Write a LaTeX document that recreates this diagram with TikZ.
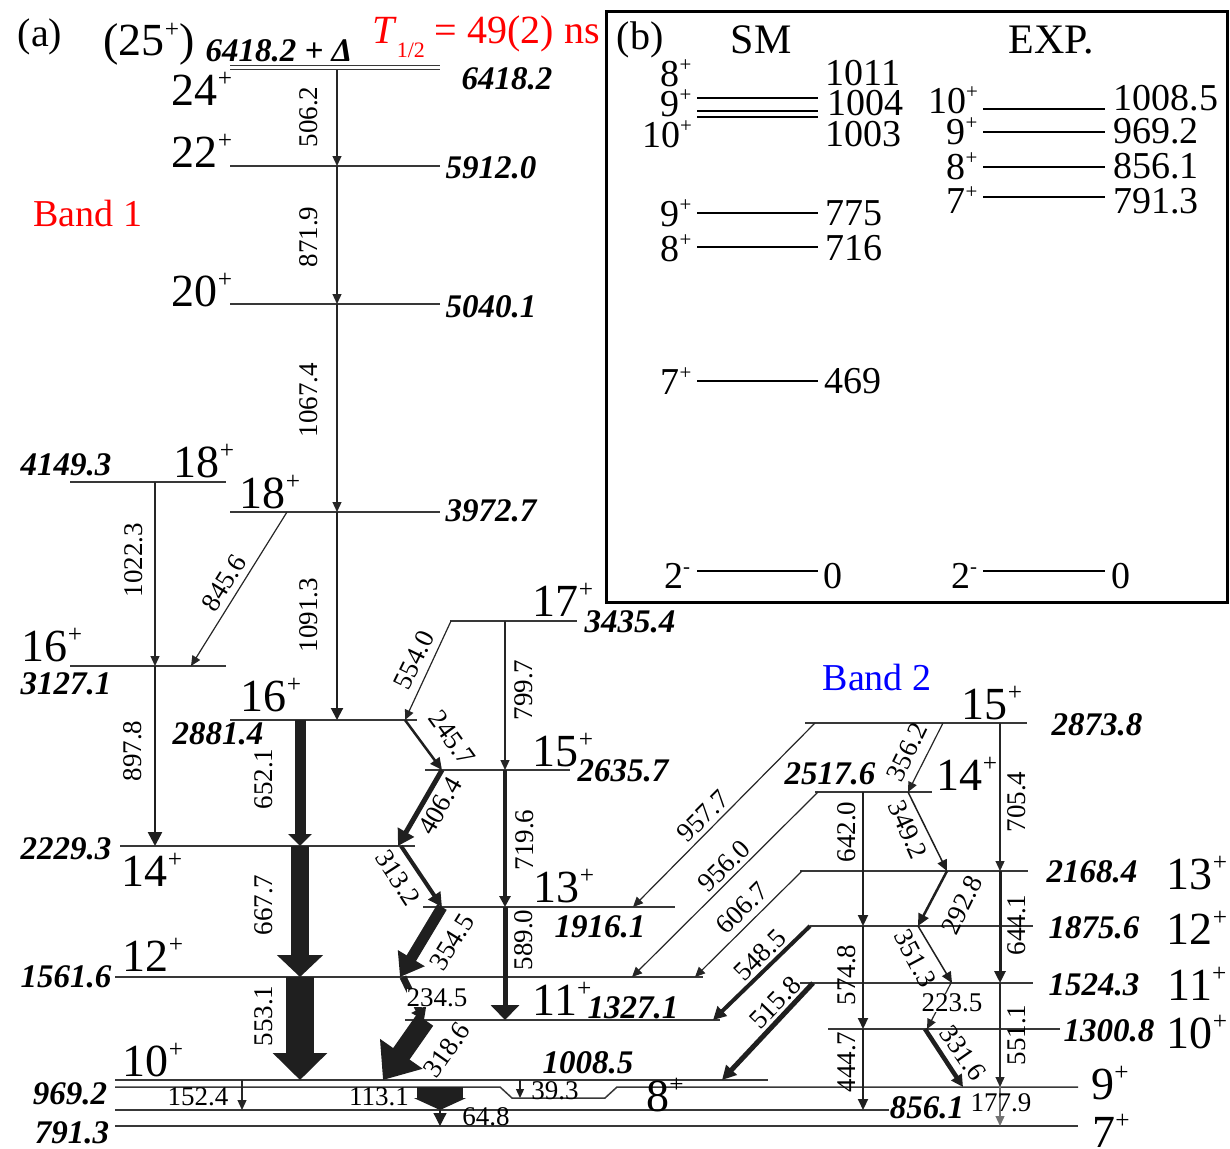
\documentclass[tikz,border=0pt]{standalone}
\usepackage{fontspec}
\usepackage{graphicx}
\setmainfont{Liberation Serif}
\usetikzlibrary{arrows.meta}
\newcommand\spp[1]{\raisebox{0.4em}{\scalebox{0.55}{#1}}}
\begin{document}
\begin{tikzpicture}[x=1pt,y=-1pt,
  lev/.style={draw=black!78, line width=1.5pt},
  ilev/.style={draw=black, line width=2.6pt},
  tr/.style={draw=black!85, line width=1.2pt, -{Triangle[width=9pt,length=10pt]}},
  ar/.style n args={3}{draw=black!88, line width=#1pt, -{Triangle[width=#2pt,length=#3pt]}},
  spin/.style={inner sep=0pt, font=\fontsize{46}{46}\selectfont},
  en/.style={inner sep=0pt, font=\fontsize{33}{33}\selectfont\bfseries\itshape},
  tl/.style={inner sep=0pt, font=\fontsize{27}{27}\selectfont},
  ins/.style={inner sep=0pt, font=\fontsize{38}{38}\selectfont},
]
\useasboundingbox (0,0) rectangle (1230,1148);

% ---------- level coordinates ----------
\coordinate (L6418d) at (0,65.5);
\coordinate (L6418) at (0,69.5);
\coordinate (L5912) at (0,166);
\coordinate (L5040) at (0,304);
\coordinate (L4149) at (0,482);
\coordinate (L3973) at (0,512);
\coordinate (L3435) at (0,621);
\coordinate (L3127) at (0,666);
\coordinate (L2881) at (0,720);
\coordinate (L2874) at (0,723);
\coordinate (L2636) at (0,770);
\coordinate (L2518) at (0,792);
\coordinate (L2229) at (0,846);
\coordinate (L2168) at (0,871);
\coordinate (L1916) at (0,907);
\coordinate (L1876) at (0,926);
\coordinate (L1562) at (0,977);
\coordinate (L1524) at (0,983);
\coordinate (L1327) at (0,1020);
\coordinate (L1301) at (0,1029);
\coordinate (L1008) at (0,1080);
\coordinate (L969) at (0,1087);
\coordinate (L969d) at (0,1098);
\coordinate (L856) at (0,1110);
\coordinate (L791) at (0,1126);

% ---------- level lines ----------
\draw[lev] ([xshift=230pt]L6418d) -- ([xshift=440pt]L6418d);
\draw[lev] ([xshift=230pt]L6418) -- ([xshift=440pt]L6418);
\draw[lev] ([xshift=230pt]L5912) -- ([xshift=440pt]L5912);
\draw[lev] ([xshift=230pt]L5040) -- ([xshift=440pt]L5040);
\draw[lev] ([xshift=70pt]L4149) -- ([xshift=226pt]L4149);
\draw[lev] ([xshift=230pt]L3973) -- ([xshift=440pt]L3973);
\draw[lev] ([xshift=450pt]L3435) -- ([xshift=577pt]L3435);
\draw[lev] ([xshift=70pt]L3127) -- ([xshift=226pt]L3127);
\draw[lev] ([xshift=230pt]L2881) -- ([xshift=417pt]L2881);
\draw[lev] ([xshift=425pt]L2636) -- ([xshift=570pt]L2636);
\draw[lev] ([xshift=120pt]L2229) -- ([xshift=415pt]L2229);
\draw[lev] ([xshift=423pt]L1916) -- ([xshift=675pt]L1916);
\draw[lev] ([xshift=115pt]L1562) -- ([xshift=703pt]L1562);
\draw[lev] ([xshift=405pt]L1327) -- ([xshift=720pt]L1327);
\draw[lev] ([xshift=115pt]L1008) -- ([xshift=768pt]L1008);
\draw[lev] ([xshift=115pt]L969) -- ([xshift=500pt]L969) -- ([xshift=512pt]L969d)
  -- ([xshift=605pt]L969d) -- ([xshift=617pt]L969) -- ([xshift=1078pt]L969);
\draw[lev] ([xshift=115pt]L856) -- ([xshift=889pt]L856);
\draw[lev] ([xshift=115pt]L791) -- ([xshift=1078pt]L791);
\draw[lev] ([xshift=805pt]L2874) -- ([xshift=1027pt]L2874);
\draw[lev] ([xshift=815pt]L2518) -- ([xshift=932pt]L2518);
\draw[lev] ([xshift=800pt]L2168) -- ([xshift=1028pt]L2168);
\draw[lev] ([xshift=810pt]L1876) -- ([xshift=1033pt]L1876);
\draw[lev] ([xshift=800pt]L1524) -- ([xshift=1033pt]L1524);
\draw[lev] ([xshift=828pt]L1301) -- ([xshift=1060pt]L1301);

% ---------- transitions, band 1 ----------
\draw[tr] ([xshift=337pt]L6418) -- ([xshift=337pt]L5912);
\draw[tr] ([xshift=337pt]L5912) -- ([xshift=337pt]L5040);
\draw[tr] ([xshift=337pt]L5040) -- ([xshift=337pt]L3973);
\draw[ar={2}{12}{12}] ([xshift=337pt]L3973) -- ([xshift=337pt]L2881);
\draw[tr] ([xshift=287pt]L3973) -- ([xshift=191pt]L3127);
\draw[tr] ([xshift=155pt]L4149) -- ([xshift=155pt]L3127);
\draw[ar={2.5}{14}{14}] ([xshift=155pt]L3127) -- ([xshift=155pt]L2229);
\draw[ar={11}{23}{12}] ([xshift=300pt]L2881) -- ([xshift=300pt]L2229);
\draw[ar={18}{45}{22}] ([xshift=300pt]L2229) -- ([xshift=300pt]L1562);
\draw[ar={28}{53}{27}] ([xshift=300pt]L1562) -- ([xshift=300pt]L1008);
\draw[tr] ([xshift=451pt]L3435) -- ([xshift=405pt]L2881);
\draw[tr] ([xshift=505pt]L3435) -- ([xshift=505pt]L2636);
\draw[ar={2.5}{11}{12}] ([xshift=405pt]L2881) -- ([xshift=442pt]L2636);
\draw[ar={5}{18}{16}] ([xshift=442pt]L2636) -- ([xshift=398pt]L2229);
\draw[ar={4}{14}{14}] ([xshift=401pt]L2229) -- ([xshift=442pt]L1916);
\draw[ar={11}{30}{22}] ([xshift=442pt]L1916) -- ([xshift=400pt]L1562);
\draw[ar={4}{11}{11}] ([xshift=505pt]L2636) -- ([xshift=505pt]L1916);
\draw[ar={5}{28}{15}] ([xshift=505pt]L1916) -- ([xshift=505pt]L1327);
\draw[ar={7}{16}{12}] ([xshift=403pt]L1562) -- ([xshift=424pt]L1327);
\draw[ar={20}{50}{32}] ([xshift=425pt]L1327) -- ([xshift=383pt]L1008);
\draw[tr] ([xshift=242pt]L1008) -- ([xshift=242pt]L856);
\draw[ar={46}{52}{12}] ([xshift=440pt]L969) -- ([xshift=440pt]L856);
\draw[ar={1.2}{13}{13}] ([xshift=440pt]L856) -- ([xshift=440pt]L791);
\draw[ar={1.2}{8}{9}] ([xshift=520pt]L1008) -- ([xshift=520pt]L969d);

% ---------- transitions, band 2 ----------
\draw[tr] ([xshift=1000pt]L2874) -- ([xshift=1000pt]L2168);
\draw[ar={3}{11}{12}] ([xshift=1000pt]L2168) -- ([xshift=1000pt]L1524);
\draw[tr] ([xshift=1000pt]L1524) -- ([xshift=1000pt]L969);
\draw[tr, draw=black!55] ([xshift=1000pt]L969) -- ([xshift=1000pt]L791);
\draw[ar={2}{10}{11}] ([xshift=863pt]L2518) -- ([xshift=863pt]L1876);
\draw[ar={2}{10}{11}] ([xshift=863pt]L1876) -- ([xshift=863pt]L1301);
\draw[ar={2}{10}{11}] ([xshift=863pt]L1301) -- ([xshift=863pt]L856);
\draw[tr] ([xshift=943pt]L2874) -- ([xshift=908pt]L2518);
\draw[ar={1.5}{10}{11}] ([xshift=908pt]L2518) -- ([xshift=947pt]L2168);
\draw[ar={2.5}{11}{12}] ([xshift=947pt]L2168) -- ([xshift=918pt]L1876);
\draw[ar={1.5}{10}{11}] ([xshift=918pt]L1876) -- ([xshift=952pt]L1524);
\draw[tr] ([xshift=951pt]L1524) -- ([xshift=927pt]L1301);
\draw[ar={4.5}{12}{12}] ([xshift=925pt]L1301) -- ([xshift=963pt]L969);

% ---------- crossing transitions ----------
\draw[tr] ([xshift=815pt]L2874) -- ([xshift=633pt]L1916);
\draw[tr] ([xshift=818pt]L2518) -- ([xshift=632pt]L1562);
\draw[tr] ([xshift=802pt]L2168) -- ([xshift=695pt]L1562);
\draw[ar={4}{13}{13}] ([xshift=810pt]L1876) -- ([xshift=713pt]L1327);
\draw[ar={5}{14}{14}] ([xshift=813pt]L1524) -- ([xshift=722pt]L1008);

% ---------- spin labels ----------
\node[font=\fontsize{40}{40}\selectfont, inner sep=0pt] (pa) at (40,37) {(a)};
\node[spin] (j25) at (149,44) {(25\spp{+})};
\node[spin] (j24) at (202,89) {24\spp{+}};
\node[spin] (j22) at (202,151) {22\spp{+}};
\node[spin] (j20) at (202,290) {20\spp{+}};
\node[spin] (j18a) at (204,461) {18\spp{+}};
\node[spin] (j18b) at (270,492) {18\spp{+}};
\node[spin] (j16a) at (52,645) {16\spp{+}};
\node[spin] (j16b) at (271,695) {16\spp{+}};
\node[spin] (j17) at (563,600) {17\spp{+}};
\node[spin] (j15) at (563,750) {15\spp{+}};
\node[spin] (j14) at (152,870) {14\spp{+}};
\node[spin] (j13) at (564,886) {13\spp{+}};
\node[spin] (j12) at (153,955) {12\spp{+}};
\node[spin] (j11) at (562,999) {11\spp{+}};
\node[spin] (j10) at (153,1060) {10\spp{+}};
\node[spin] (j8) at (665,1095) {8\spp{+}};
\node[spin] (j9) at (1110,1083) {9\spp{+}};
\node[spin] (j7) at (1111,1131) {7\spp{+}};
\node[spin] (j15r) at (992,703) {15\spp{+}};
\node[spin] (j14r) at (967,774) {14\spp{+}};
\node[spin] (j13r) at (1197,873) {13\spp{+}};
\node[spin] (j12r) at (1197,928) {12\spp{+}};
\node[spin] (j11r) at (1197,984) {11\spp{+}};
\node[spin] (j10r) at (1197,1032) {10\spp{+}};

% ---------- energy labels ----------
\node[en] (e64d) at (279,51) {6418.2 + Δ};
\node[en] (e64) at (507,79) {6418.2};
\node[en] (e59) at (491,168) {5912.0};
\node[en] (e50) at (491,307) {5040.1};
\node[en] (e41) at (66,465) {4149.3};
\node[en] (e39) at (491,511) {3972.7};
\node[en] (e34) at (630,622) {3435.4};
\node[en] (e31) at (66,684) {3127.1};
\node[en] (e28) at (218,734) {2881.4};
\node[en] (e26) at (623,771) {2635.7};
\node[en] (e22) at (66,849) {2229.3};
\node[en] (e19) at (600,927) {1916.1};
\node[en] (e15) at (66,977) {1561.6};
\node[en] (e13) at (633,1008) {1327.1};
\node[en] (e10) at (588,1063) {1008.5};
\node[en] (e96) at (70,1094) {969.2};
\node[en] (e79) at (72,1133) {791.3};
\node[en] (e85) at (927,1108) {856.1};
\node[en] (e287) at (1097,725) {2873.8};
\node[en] (e251) at (830,774) {2517.6};
\node[en] (e216) at (1092,872) {2168.4};
\node[en] (e187) at (1094,928) {1875.6};
\node[en] (e152) at (1094,985) {1524.3};
\node[en] (e130) at (1109,1031) {1300.8};

% ---------- band names, half-life ----------
\node[inner sep=0pt, text=red, font=\fontsize{38}{38}\selectfont] (b1) at (88,213) {Band 1};
\node[inner sep=0pt, text=blue, font=\fontsize{38}{38}\selectfont] (b2) at (877,677) {Band 2};
\node[inner sep=0pt, text=red, font=\fontsize{40}{40}\selectfont] (th) at (486,37)
  {\itshape T\/\upshape\raisebox{-0.35em}{\scalebox{0.55}{1/2}} = 49(2) ns};

% ---------- transition labels ----------
\node[tl, rotate=90] (g506) at (309,117) {506.2};
\node[tl, rotate=90] (g871) at (309,237) {871.9};
\node[tl, rotate=90] (g1067) at (309,400) {1067.4};
\node[tl, rotate=90] (g1091) at (309,615) {1091.3};
\node[tl, rotate=90] (g1022) at (134,560) {1022.3};
\node[tl, rotate=58] (g845) at (224,583) {845.6};
\node[tl, rotate=90] (g897) at (133,751) {897.8};
\node[tl, rotate=90] (g652) at (264,779) {652.1};
\node[tl, rotate=90] (g667) at (264,905) {667.7};
\node[tl, rotate=90] (g553) at (264,1016) {553.1};
\node[tl, rotate=64] (g554) at (414,660) {554.0};
\node[tl, rotate=90] (g799) at (524,690) {799.7};
\node[tl, rotate=-54] (g245) at (452,738) {245.7};
\node[tl, rotate=60] (g406) at (440,806) {406.4};
\node[tl, rotate=-57] (g313) at (398,878) {313.2};
\node[tl, rotate=58] (g354) at (452,942) {354.5};
\node[tl, rotate=90] (g719) at (525,840) {719.6};
\node[tl, rotate=90] (g589) at (524,940) {589.0};
\node[tl, fill=white] (g234) at (437,998) {234.5};
\node[tl, rotate=55] (g318) at (447,1050) {318.6};
\node[tl] (g152) at (198,1097) {152.4};
\node[tl] (g113) at (379,1097) {113.1};
\node[tl] (g39) at (555,1091) {39.3};
\node[tl] (g64) at (486,1117) {64.8};
\node[tl] (g177) at (1001,1103) {177.9};
\node[tl, rotate=45] (g957) at (703,816) {957.7};
\node[tl, rotate=45] (g956) at (724,866) {956.0};
\node[tl, rotate=45] (g606) at (742,908) {606.7};
\node[tl, rotate=45] (g548) at (760,955) {548.5};
\node[tl, rotate=46] (g515) at (775,1003) {515.8};
\node[tl, rotate=64] (g356) at (907,752) {356.2};
\node[tl, rotate=-66] (g349) at (908,830) {349.2};
\node[tl, rotate=64] (g292) at (962,905) {292.8};
\node[tl, rotate=-62] (g351) at (915,958) {351.3};
\node[tl, fill=white] (g223) at (952,1003) {223.5};
\node[tl, rotate=-55] (g331) at (963,1053) {331.6};
\node[tl, rotate=90] (g642) at (847,832) {642.0};
\node[tl, rotate=90] (g574) at (847,975) {574.8};
\node[tl, rotate=90] (g444) at (847,1062) {444.7};
\node[tl, rotate=90] (g705) at (1017,802) {705.4};
\node[tl, rotate=90] (g644) at (1017,925) {644.1};
\node[tl, rotate=90] (g551) at (1017,1035) {551.1};

% ---------- inset (b) ----------
\node[draw, line width=2.6pt, minimum width=621pt, minimum height=591pt, inner sep=0pt,
  anchor=north west] (frame) at (605,10) {};
\node[inner sep=0pt, font=\fontsize{40}{40}\selectfont] (pb) at (640,40) {(b)};
\node[inner sep=0pt, font=\fontsize{42}{42}\selectfont] (sm) at (761,40) {SM};
\node[inner sep=0pt, font=\fontsize{42}{42}\selectfont] (exp) at (1051,40) {EXP.};

\draw[ilev] (697,98) -- (818,98);
\draw[ilev] (697,111) -- (818,111);
\draw[ilev] (697,117) -- (818,117);
\draw[ilev] (697,213) -- (818,213);
\draw[ilev] (697,247) -- (818,247);
\draw[ilev] (697,381) -- (818,381);
\draw[ilev] (697,571) -- (818,571);
\draw[ilev] (983,109) -- (1105,109);
\draw[ilev] (983,132) -- (1105,132);
\draw[ilev] (983,167) -- (1105,167);
\draw[ilev] (983,197) -- (1105,197);
\draw[ilev] (983,571) -- (1105,571);

\node[ins] (s8a) at (676,73) {8\spp{+}};
\node[ins] (s1011) at (863,73) {1011};
\node[ins] (s9a) at (676,103) {9\spp{+}};
\node[ins] (s1004) at (865,103) {1004};
\node[ins] (s10) at (667,134) {10\spp{+}};
\node[ins] (s1003) at (863,134) {1003};
\node[ins] (s9b) at (676,213) {9\spp{+}};
\node[ins] (s775) at (854,213) {775};
\node[ins] (s8b) at (676,248) {8\spp{+}};
\node[ins] (s716) at (854,248) {716};
\node[ins] (s7) at (676,381) {7\spp{+}};
\node[ins] (s469) at (853,381) {469};
\node[ins] (s2) at (677,576) {2\spp{-}};
\node[ins] (s0) at (833,576) {0};
\node[ins] (x10) at (953,100) {10\spp{+}};
\node[ins] (x1008) at (1166,98) {1008.5};
\node[ins] (x9) at (962,131) {9\spp{+}};
\node[ins] (x969) at (1156,131) {969.2};
\node[ins] (x8) at (962,166) {8\spp{+}};
\node[ins] (x856) at (1156,166) {856.1};
\node[ins] (x7) at (962,200) {7\spp{+}};
\node[ins] (x791) at (1156,201) {791.3};
\node[ins] (x2) at (964,576) {2\spp{-}};
\node[ins] (x0) at (1121,576) {0};
\end{tikzpicture}
\end{document}
